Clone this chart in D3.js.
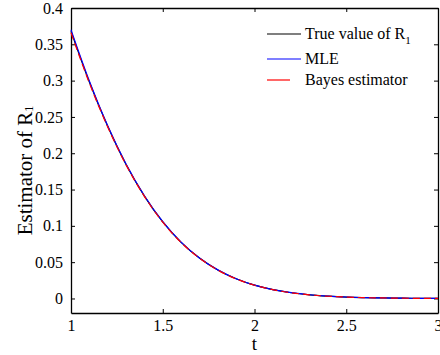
<!DOCTYPE html>
<html>
<head>
<meta charset="utf-8">
<script src="https://cdn.jsdelivr.net/npm/d3@7"></script>
<style>
  body { margin: 0; background: #fff; }
  text { font-family: "Liberation Serif", "Times New Roman", serif; }
</style>
</head>
<body>
<div id="chart"></div>
<script>
// values
var tVals = [1, 1.1, 1.2, 1.3, 1.4, 1.5, 1.6, 1.7, 1.8, 1.9, 2, 2.1, 2.2, 2.3, 2.4, 2.5, 2.6, 2.7, 2.8, 2.9, 3];
var trueR = [0.368, 0.298, 0.237, 0.1845, 0.141, 0.1054, 0.0773, 0.0556, 0.0392, 0.0271, 0.0183,
  0.0122, 0.0079, 0.005, 0.0032, 0.0019, 0.0012, 0.0007, 0.0004, 0.0002, 0.0001];
var mleR = [0.370, 0.2995, 0.2378, 0.1852, 0.1415, 0.1058, 0.0776, 0.0558, 0.0394, 0.0272, 0.0184,
  0.0123, 0.0080, 0.0051, 0.0032, 0.0020, 0.0012, 0.0007, 0.0004, 0.0002, 0.0001];
var bayesR = [0.366, 0.2968, 0.2362, 0.1840, 0.1406, 0.1051, 0.0771, 0.0555, 0.0391, 0.0270, 0.0182,
  0.0121, 0.0079, 0.0050, 0.0031, 0.0019, 0.0011, 0.0007, 0.0004, 0.0002, 0.0001];
var xTicks = [1, 1.5, 2, 2.5, 3];
var yTicks = [0, 0.05, 0.1, 0.15, 0.2, 0.25, 0.3, 0.35, 0.4];
var seriesNames = ["True value of R", "MLE", "Bayes estimator"];
var seriesColors = ["#000000", "#0000ff", "#ff0000"];

var W = 440, H = 355;
var margin = {top: 8, right: 2, bottom: 42, left: 71};
var w = W - margin.left - margin.right;
var h = H - margin.top - margin.bottom;

var svg = d3.select("#chart")
  .append("svg")
  .attr("width", W)
  .attr("height", H)
  .append("g")
  .attr("transform", "translate(" + margin.left + "," + margin.top + ")");

var x = d3.scaleLinear().domain([1, 3]).range([0, w]);
var y = d3.scaleLinear().domain([-0.02, 0.4]).range([h, 0]);

// axes, ticks pointing inward
var fmt = function(d){ return d3.format("")(+d.toFixed(2)); };

svg.append("g")
  .attr("transform", "translate(0," + h + ")")
  .call(d3.axisBottom(x).tickValues(xTicks).tickSizeInner(-4).tickSizeOuter(0).tickPadding(7).tickFormat(fmt));
svg.append("g")
  .call(d3.axisTop(x).tickValues(xTicks).tickSizeInner(-4).tickSizeOuter(0).tickFormat(""));
svg.append("g")
  .call(d3.axisLeft(y).tickValues(yTicks).tickSizeInner(-4).tickSizeOuter(0).tickPadding(8).tickFormat(fmt));
svg.append("g")
  .attr("transform", "translate(" + w + ",0)")
  .call(d3.axisRight(y).tickValues(yTicks).tickSizeInner(-4).tickSizeOuter(0).tickFormat(""));

svg.selectAll(".domain").attr("stroke", "#000").attr("stroke-width", 1.3);
svg.selectAll(".tick line").attr("stroke", "#000");
svg.selectAll(".tick text")
  .attr("fill", "#000")
  .style("font-family", "Liberation Serif")
  .style("font-size", "16px");

// curves
var line = d3.line()
  .x(function(d){ return x(d[0]); })
  .y(function(d){ return y(d[1]); })
  .curve(d3.curveMonotoneX);

var allSeries = [trueR, mleR, bayesR];
allSeries.forEach(function(vals, k){
  svg.append("path")
    .attr("d", line(tVals.map(function(t, i){ return [t, vals[i]]; })))
    .attr("fill", "none")
    .attr("stroke", seriesColors[k])
    .attr("stroke-width", 1.2)
    .attr("stroke-dasharray", k === 2 ? "7,4" : null);
});

// legend
var leg = svg.append("g").attr("transform", "translate(196,26)");
seriesNames.forEach(function(name, k){
  var yy = [0, 25, 46][k];
  leg.append("line")
    .attr("x1", 0).attr("x2", k === 2 ? 23 : 34)
    .attr("y1", yy).attr("y2", yy)
    .attr("stroke", seriesColors[k])
    .attr("stroke-width", 1.2);
  var t = leg.append("text")
    .attr("x", 38).attr("y", yy + 5)
    .style("font-size", "16px")
    .text(name);
  if (k === 0) {
    t.append("tspan").attr("dy", 5).style("font-size", "11px").text("1");
  }
});

// axis labels
svg.append("text")
  .attr("x", x(2)).attr("y", h + 37)
  .attr("text-anchor", "middle")
  .style("font-size", "19px")
  .text("t");

var yl = svg.append("text")
  .attr("transform", "translate(-39," + (h / 2 + 10) + ") rotate(-90)")
  .attr("text-anchor", "middle")
  .style("font-size", "21px")
  .text("Estimator of R");
yl.append("tspan").attr("dy", 1).style("font-size", "12px").text("1");
</script>
</body>
</html>
